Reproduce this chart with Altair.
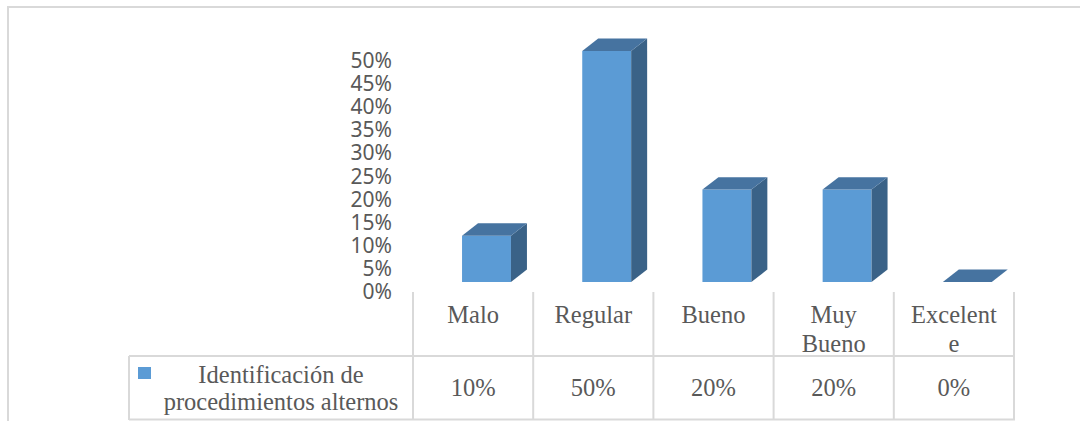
import altair as alt
import pandas as pd

# ---- data -------------------------------------------------------------
categories = ["Malo", "Regular", "Bueno", "Muy Bueno", "Excelente"]
header_labels = ["Malo", "Regular", "Bueno", "Muy\nBueno", "Excelent\ne"]
values = [0.10, 0.50, 0.20, 0.20, 0.00]
series_name = "Identificación de\nprocedimientos alternos"
y_ticks = [0.00, 0.05, 0.10, 0.15, 0.20, 0.25, 0.30, 0.35, 0.40, 0.45, 0.50]

# ---- look -------------------------------------------------------------
FRONT = "#5B9BD5"
SIDE = "#3A6287"
TOP = "#4673A0"
TEXT = "#595959"
LINE = "#D9D9D9"
SERIF = "Liberation Serif"
SANS = "Noto Sans"

W, H = 1080, 421
X_RANGE = [413, 1014]      # table columns span
Y_RANGE = [282, 51]        # 0 % .. 50 % on the front plane

# 3-D column projection, in axis units
FRONT_START = 0.408
FRONT_END = 0.815
DEPTH_X = 0.133
DEPTH_Y = 0.027

xs = alt.Scale(domain=[0, len(categories)], range=X_RANGE, nice=False, zero=False)
ys = alt.Scale(domain=[0, 0.5], range=Y_RANGE, nice=False)

# ---- geometry tables built from the series ----------------------------
front_rows, side_rows, top_rows = [], [], []
for i, (c, v) in enumerate(zip(categories, values)):
    front_rows.append({"cat": c, "x0": i + FRONT_START, "x1": i + FRONT_END,
                       "v": v, "base": 0.0})
    side_rows += [
        {"cat": c, "x": i + FRONT_END, "top": v, "bot": 0.0},
        {"cat": c, "x": i + FRONT_END + DEPTH_X, "top": v + DEPTH_Y, "bot": DEPTH_Y},
    ]
    top_rows += [
        {"cat": c, "y": v, "xa": i + FRONT_START, "xb": i + FRONT_END},
        {"cat": c, "y": v + DEPTH_Y, "xa": i + FRONT_START + DEPTH_X,
         "xb": i + FRONT_END + DEPTH_X},
    ]
front_df = pd.DataFrame(front_rows)
side_df = pd.DataFrame(side_rows)
top_df = pd.DataFrame(top_rows)

table_df = pd.DataFrame({
    "pos": [i + 0.5 for i in range(len(categories))],
    "header": header_labels,
    "value": values,
})
ticks_df = pd.DataFrame({"t": y_ticks})
bounds_df = pd.DataFrame({"b": list(range(len(categories) + 1))})
one = bounds_df.head(1)

# ---- value axis labels --------------------------------------------------
axis_labels = alt.Chart(ticks_df).mark_text(
    font=SANS, fontSize=21, color=TEXT, align="right", baseline="top",
).encode(
    x=alt.value(392),
    y=alt.Y("t:Q", scale=ys, axis=None),
    text=alt.Text("t:Q", format=".0%"),
)

# ---- columns ----------------------------------------------------------
front = alt.Chart(front_df).mark_rect(color=FRONT).encode(
    x=alt.X("x0:Q", scale=xs, axis=None),
    x2="x1:Q",
    y=alt.Y("v:Q", scale=ys, axis=None),
    y2="base:Q",
)
side = alt.Chart(side_df).mark_area(color=SIDE, orient="vertical").encode(
    x=alt.X("x:Q", scale=xs, axis=None),
    y=alt.Y("top:Q", scale=ys, axis=None),
    y2="bot:Q",
    detail="cat:N",
)
top = alt.Chart(top_df).mark_area(color=TOP, orient="horizontal").encode(
    y=alt.Y("y:Q", scale=ys, axis=None),
    x=alt.X("xa:Q", scale=xs, axis=None),
    x2="xb:Q",
    detail="cat:N",
)

# ---- data table under the plot -----------------------------------------
def hline(y):
    return alt.Chart(one).mark_rule(color=LINE, strokeWidth=2).encode(
        x=alt.value(129), x2=alt.value(1015), y=alt.value(y),
    )

col_lines = alt.Chart(bounds_df).mark_rule(color=LINE, strokeWidth=2).encode(
    x=alt.X("b:Q", scale=xs, axis=None),
    y=alt.value(292), y2=alt.value(420),
)
legend_edge = alt.Chart(one).mark_rule(color=LINE, strokeWidth=2).encode(
    x=alt.value(129), y=alt.value(356), y2=alt.value(420),
)
headers = alt.Chart(table_df).mark_text(
    font=SERIF, fontSize=24.5, color=TEXT, align="center",
    baseline="alphabetic", lineBreak="\n", lineHeight=28.5,
).encode(
    x=alt.X("pos:Q", scale=xs, axis=None),
    y=alt.value(323),
    text="header:N",
)
cells = alt.Chart(table_df).mark_text(
    font=SERIF, fontSize=24.5, color=TEXT, align="center", baseline="middle",
).encode(
    x=alt.X("pos:Q", scale=xs, axis=None),
    y=alt.value(389),
    text=alt.Text("value:Q", format=".0%"),
)
legend_key = alt.Chart(one).mark_rect(color=FRONT).encode(
    x=alt.value(138), x2=alt.value(151), y=alt.value(367), y2=alt.value(379),
)
legend_text = alt.Chart(pd.DataFrame({"s": [series_name]})).mark_text(
    font=SERIF, fontSize=24.5, color=TEXT, align="center", baseline="alphabetic",
    lineBreak="\n", lineHeight=27,
).encode(
    x=alt.value(281), y=alt.value(383), text="s:N",
)

# ---- outer frame -------------------------------------------------------
frame_left = alt.Chart(one).mark_rule(color=LINE, strokeWidth=2).encode(
    x=alt.value(8), y=alt.value(7), y2=alt.value(H),
)
frame_top = alt.Chart(one).mark_rule(color=LINE, strokeWidth=2).encode(
    x=alt.value(7), x2=alt.value(W), y=alt.value(7),
)

chart = alt.layer(
    frame_left, frame_top,
    col_lines, legend_edge, hline(356), hline(419.5),
    axis_labels, front, side, top,
    headers, cells, legend_key, legend_text,
).properties(
    width=W, height=H, padding=0,
    autosize=alt.AutoSizeParams(type="none"),
    background="white",
).configure_view(strokeWidth=0)

chart.save("out.html", embed_options={"renderer": "svg", "actions": False})
